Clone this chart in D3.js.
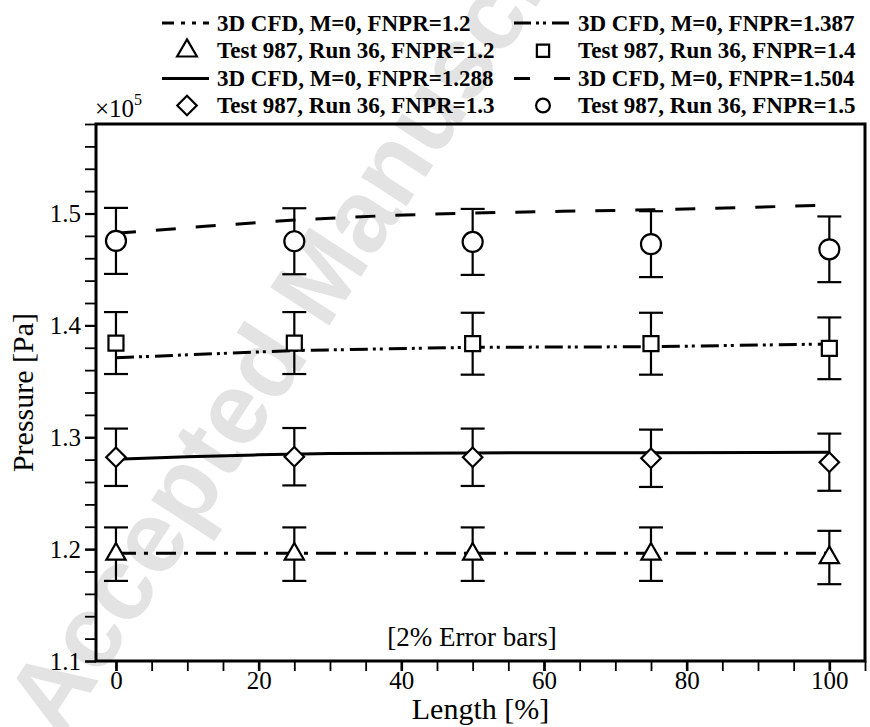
<!DOCTYPE html>
<html>
<head>
<meta charset="utf-8">
<script src="https://cdn.jsdelivr.net/npm/d3@7"></script>
<style>
  html, body { margin: 0; padding: 0; background: #fff; }
  svg { display: block; }
  svg text { font-family: "Liberation Serif", "Tinos", "Times New Roman", "Times", "Nimbus Roman", "DejaVu Serif", serif; fill: #000; }
</style>
</head>
<body>
<svg id="chart" width="870" height="727"></svg>
<script>
// Measurement stations along the duct (% of length)
const stations = [0, 25, 50, 75, 100];

// Test 987, Run 36 wall pressures (x10^5 Pa)
const test12 = [1.1955, 1.1955, 1.1955, 1.1955, 1.1925];
const test13 = [1.2821, 1.2826, 1.2821, 1.2812, 1.2777];
const test14 = [1.3842, 1.3842, 1.3836, 1.3836, 1.3795];
const test15 = [1.4755, 1.4752, 1.4746, 1.4726, 1.4680];

// 3D CFD, M=0 predictions (x10^5 Pa)
const cfd12x = [0, 25, 50, 75, 100];
const cfd12y = [1.1963, 1.1964, 1.1964, 1.1963, 1.1963];
const cfd1288x = [0, 10, 20, 30, 50, 75, 100];
const cfd1288y = [1.2803, 1.2825, 1.2843, 1.2855, 1.2860, 1.2862, 1.2866];
const cfd1387x = [0, 25, 50, 75, 100];
const cfd1387y = [1.3711, 1.3775, 1.3804, 1.3809, 1.3834];
const cfd1504x = [0, 12.5, 25, 37.5, 50, 62.5, 75, 87.5, 100];
const cfd1504y = [1.4823, 1.4885, 1.4942, 1.4980, 1.5005, 1.5020, 1.5033, 1.5052, 1.5076];

// Relative experimental uncertainty
const errorFraction = 0.02;

// Axis ticks
const xMajorTicks = [0, 20, 40, 60, 80, 100];
const yMajorTicks = [1.1, 1.2, 1.3, 1.4, 1.5];

// Legend labels
const cfdLabels = ["3D CFD, M=0, FNPR=1.2", "3D CFD, M=0, FNPR=1.288", "3D CFD, M=0, FNPR=1.387", "3D CFD, M=0, FNPR=1.504"];
const testLabels = ["Test 987, Run 36, FNPR=1.2", "Test 987, Run 36, FNPR=1.3", "Test 987, Run 36, FNPR=1.4", "Test 987, Run 36, FNPR=1.5"];

const SERIF = "'Liberation Serif', 'Tinos', 'Times New Roman', Times, 'Nimbus Roman', 'DejaVu Serif', serif";

const svg = d3.select("#chart");
const plot = { left: 96, right: 865, top: 124, bottom: 661 };

const x = d3.scaleLinear().domain([-2.8, 105]).range([plot.left, plot.right]);
const y = d3.scaleLinear().domain([1.1, 1.58]).range([plot.bottom, plot.top]);

// Watermark
svg.append("text")
  .attr("transform", "translate(60,740) rotate(-57)")
  .attr("text-anchor", "start")
  .style("font-family", "'Liberation Sans', Arial, sans-serif")
  .style("font-weight", "bold")
  .style("font-size", "102px")
  .style("fill", "#e3e3e3")
  .text("Accepted Manuscript");

// Line styles for the CFD curves
const styles = {
  dashDot: "20,8,4,8",
  solid: null,
  dashDotDot: "18,5,3,4,3,6",
  dash: "20,20"
};

// Axes: ticks pointing outward
const xAxisMinor = d3.axisBottom(x).tickValues(d3.range(0, 106, 5)).tickSize(10).tickFormat("");
const xAxisMajor = d3.axisBottom(x).tickValues(xMajorTicks).tickSize(10).tickPadding(0).tickFormat(d3.format("d"));
const yAxisMinor = d3.axisLeft(y).tickValues(d3.range(0, 25).map(i => 1.1 + i * 0.02)).tickSize(11).tickFormat("");
const yAxisMajor = d3.axisLeft(y).tickValues(yMajorTicks).tickSize(11).tickPadding(4).tickFormat(d3.format(".1f"));

function styleAxis(g, w) {
  g.attr("font-family", null).attr("font-size", null);
  g.select(".domain").remove();
  g.selectAll(".tick line").attr("stroke", "#000").attr("stroke-width", w);
  g.selectAll(".tick text")
    .style("font-family", SERIF)
    .style("font-size", "25px")
    .attr("fill", "#000");
}

svg.append("g").attr("transform", `translate(0,${plot.bottom})`).call(xAxisMinor).call(g => styleAxis(g, 1.8));
svg.append("g").attr("transform", `translate(0,${plot.bottom})`).call(xAxisMajor).call(g => styleAxis(g, 2.6));
svg.append("g").attr("transform", `translate(${plot.left},0)`).call(yAxisMinor).call(g => styleAxis(g, 1.8));
svg.append("g").attr("transform", `translate(${plot.left},0)`).call(yAxisMajor).call(g => styleAxis(g, 2.2));

// CFD curves
const line = d3.line().x(d => x(d[0])).y(d => y(d[1]));
const cfdSeries = [
  { xs: cfd12x, ys: cfd12y, dash: styles.dashDot },
  { xs: cfd1288x, ys: cfd1288y, dash: styles.solid },
  { xs: cfd1387x, ys: cfd1387y, dash: styles.dashDotDot },
  { xs: cfd1504x, ys: cfd1504y, dash: styles.dash }
];
cfdSeries.forEach(s => {
  svg.append("path")
    .datum(d3.zip(s.xs, s.ys))
    .attr("d", line)
    .attr("fill", "none")
    .attr("stroke", "#000")
    .attr("stroke-width", 3)
    .attr("stroke-dasharray", s.dash);
});

// Test data with error bars and markers
const triangle = d3.symbol().type(d3.symbolTriangle).size(160);
const diamond = d3.symbol().type(d3.symbolSquare).size(190);
const square = d3.symbol().type(d3.symbolSquare).size(225);
const circle = d3.symbol().type(d3.symbolCircle).size(314);

const testSeries = [
  { vals: test12, sym: triangle, rot: 0 },
  { vals: test13, sym: diamond, rot: 45 },
  { vals: test14, sym: square, rot: 0 },
  { vals: test15, sym: circle, rot: 0 }
];
const capHalf = 12;
testSeries.forEach(s => {
  const pts = d3.zip(stations, s.vals);
  const g = svg.append("g");
  const eb = g.selectAll(".eb").data(pts).join("g").attr("class", "eb");
  eb.append("line")
    .attr("x1", d => x(d[0])).attr("x2", d => x(d[0]))
    .attr("y1", d => y(d[1] * (1 + errorFraction))).attr("y2", d => y(d[1] * (1 - errorFraction)));
  eb.append("line")
    .attr("x1", d => x(d[0]) - capHalf).attr("x2", d => x(d[0]) + capHalf)
    .attr("y1", d => y(d[1] * (1 + errorFraction))).attr("y2", d => y(d[1] * (1 + errorFraction)));
  eb.append("line")
    .attr("x1", d => x(d[0]) - capHalf).attr("x2", d => x(d[0]) + capHalf)
    .attr("y1", d => y(d[1] * (1 - errorFraction))).attr("y2", d => y(d[1] * (1 - errorFraction)));
  eb.selectAll("line").attr("stroke", "#000").attr("stroke-width", 2.2);
  g.selectAll(".mk").data(pts).join("path").attr("class", "mk")
    .attr("transform", d => `translate(${x(d[0])},${y(d[1])}) rotate(${s.rot})`)
    .attr("d", s.sym())
    .attr("fill", "#fff")
    .attr("stroke", "#000")
    .attr("stroke-width", 2.2);
});

// Plot frame
svg.append("rect")
  .attr("x", plot.left).attr("y", plot.top)
  .attr("width", plot.right - plot.left).attr("height", plot.bottom - plot.top)
  .attr("fill", "none").attr("stroke", "#000").attr("stroke-width", 3);

// Annotation
svg.append("text")
  .attr("x", 472).attr("y", 646)
  .attr("text-anchor", "middle")
  .style("font-family", SERIF)
  .style("font-size", "27px")
  .text("[2% Error bars]");

// Axis titles
svg.append("text")
  .attr("x", (plot.left + plot.right) / 2).attr("y", 719)
  .attr("text-anchor", "middle")
  .style("font-family", SERIF)
  .style("font-size", "30px")
  .text("Length [%]");
svg.append("text")
  .attr("transform", `translate(33,${(plot.top + plot.bottom) / 2}) rotate(-90)`)
  .attr("text-anchor", "middle")
  .style("font-family", SERIF)
  .style("font-size", "30px")
  .text("Pressure [Pa]");

// Exponent label
const expo = svg.append("text").attr("x", 95).attr("y", 117)
  .style("font-family", SERIF).style("font-size", "25px");
expo.append("tspan").text("\u00d710");
expo.append("tspan").attr("dy", -12).style("font-size", "16px").text("5");

// Legend
const legendRows = [30.5, 58.3, 86, 113];
const legendCols = [
  { lineX0: 162, lineX1: 209, markX: 187, textX: 217 },
  { lineX0: 514, lineX1: 570, markX: 543, textX: 578 }
];
const legendItems = [
  { col: 0, row: 0, kind: "line", dash: "12,7,4,7,4,7", label: cfdLabels[0] },
  { col: 0, row: 1, kind: "mark", sym: d3.symbol().type(d3.symbolTriangle).size(170), rot: 0, label: testLabels[0] },
  { col: 0, row: 2, kind: "line", dash: null, label: cfdLabels[1] },
  { col: 0, row: 3, kind: "mark", sym: d3.symbol().type(d3.symbolSquare).size(190), rot: 45, label: testLabels[1] },
  { col: 1, row: 0, kind: "line", dash: "17,5,3,4,3,6", label: cfdLabels[2] },
  { col: 1, row: 1, kind: "mark", sym: d3.symbol().type(d3.symbolSquare).size(150), rot: 0, label: testLabels[2] },
  { col: 1, row: 2, kind: "line", dash: "16,24", label: cfdLabels[3] },
  { col: 1, row: 3, kind: "mark", sym: d3.symbol().type(d3.symbolCircle).size(150), rot: 0, label: testLabels[3] }
];
legendItems.forEach(it => {
  const c = legendCols[it.col];
  const base = legendRows[it.row];
  const mid = base - 7.5;
  if (it.kind === "line") {
    svg.append("line")
      .attr("x1", c.lineX0).attr("x2", c.lineX1)
      .attr("y1", mid).attr("y2", mid)
      .attr("stroke", "#000").attr("stroke-width", 3)
      .attr("stroke-dasharray", it.dash);
  } else {
    svg.append("path")
      .attr("transform", `translate(${c.markX},${mid}) rotate(${it.rot})`)
      .attr("d", it.sym())
      .attr("fill", "#fff").attr("stroke", "#000").attr("stroke-width", 2.2);
  }
  svg.append("text")
    .attr("x", c.textX).attr("y", base)
    .style("font-family", SERIF)
    .style("font-size", "23px")
    .style("font-weight", "bold")
    .text(it.label);
});
</script>
</body>
</html>
